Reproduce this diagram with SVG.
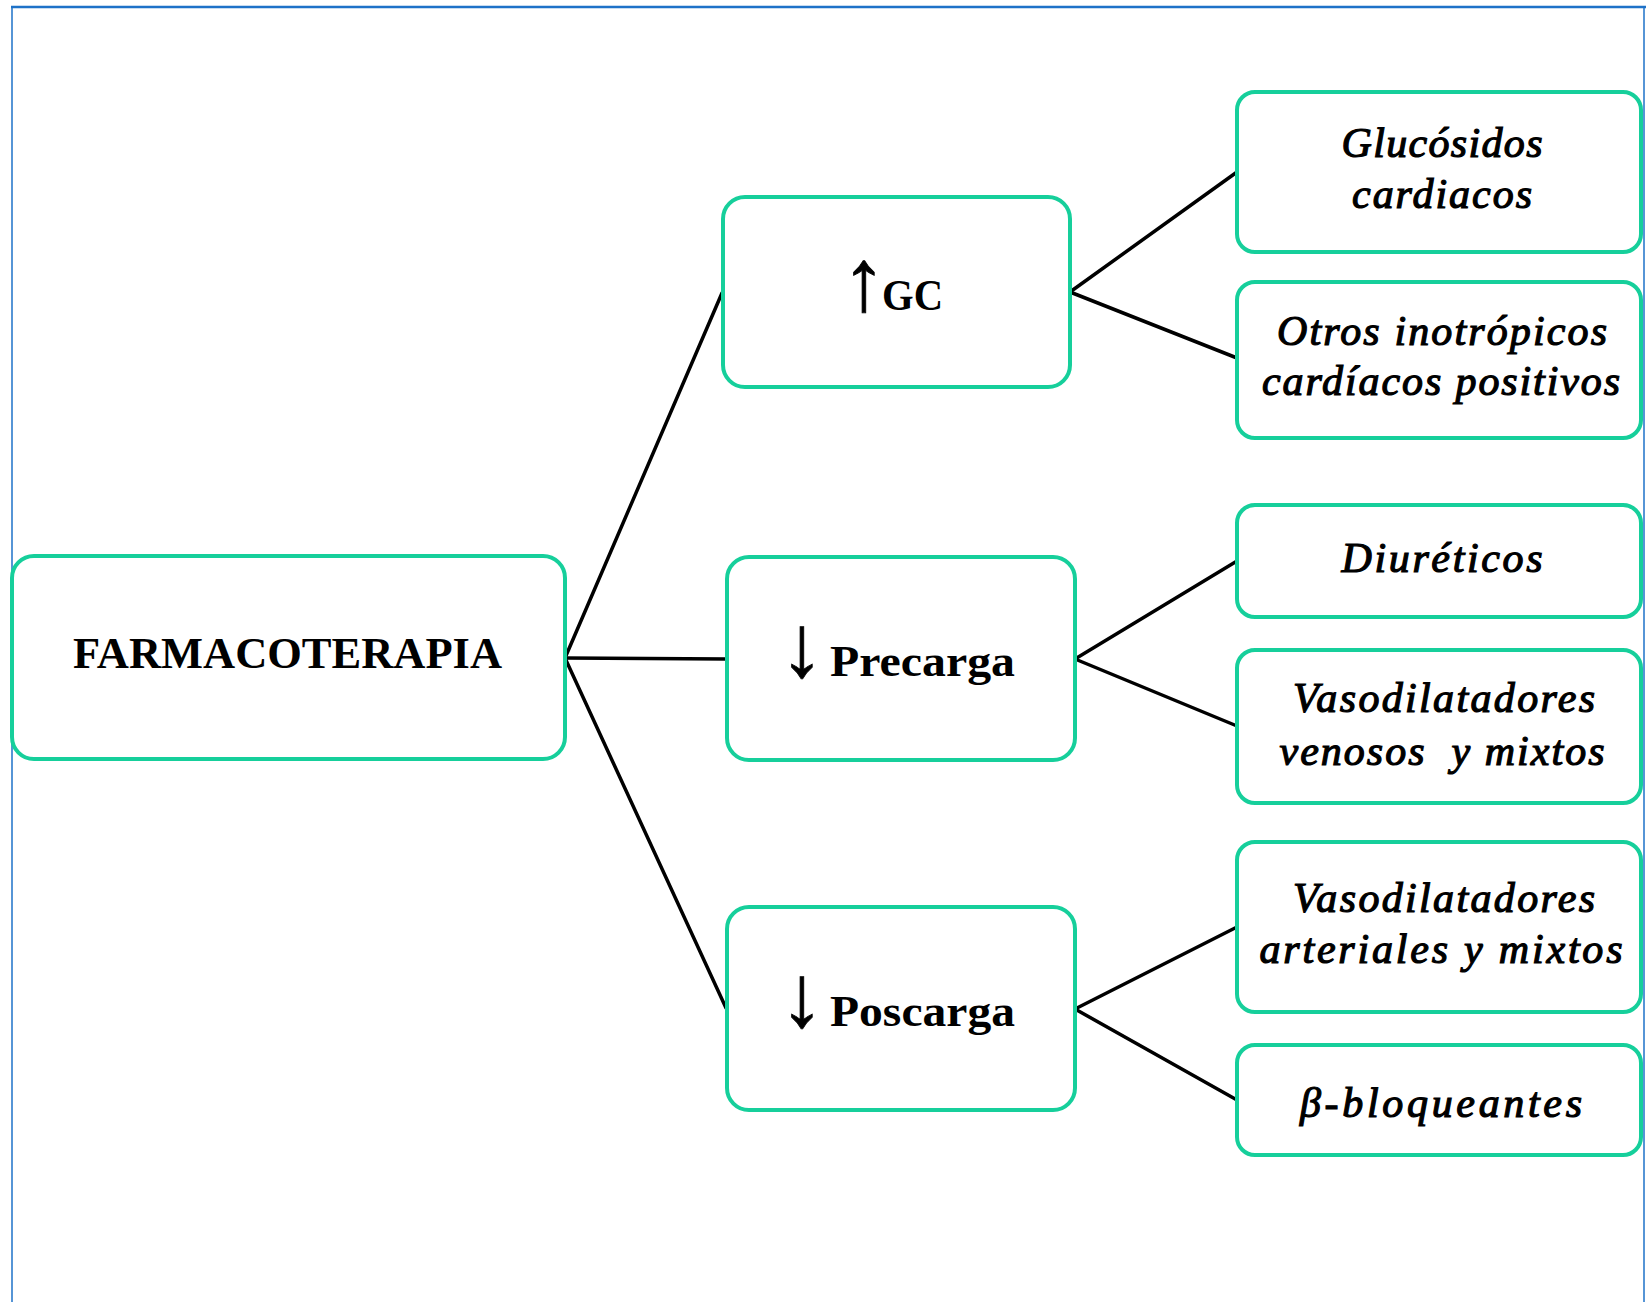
<svg xmlns="http://www.w3.org/2000/svg" width="1646" height="1302" viewBox="0 0 1646 1302">
  <style>
    .box { fill: #ffffff; stroke: #16CF9B; stroke-width: 4; }
    .edge { stroke: #000000; stroke-width: 3.5; fill: none; stroke-linecap: round; }
    .head { font-family: "Liberation Serif", "DejaVu Serif", serif; font-weight: bold; font-size: 44px; fill: #000; }
    .arrow { font-family: "Liberation Serif", "DejaVu Serif", serif; font-size: 88px; fill: #000; stroke: #000; stroke-width: 0.8; text-anchor: middle; }
    .leaf { font-family: "Liberation Serif", "Times New Roman", serif; font-style: italic; font-size: 42px; fill: #000; stroke: #000; stroke-width: 1.2; text-anchor: middle; white-space: pre; }
  </style>

  <rect x="0" y="0" width="1646" height="1302" fill="#ffffff"/>

  <!-- page frame -->
  <g id="frame" fill="none" stroke="#1E72C8">
    <line x1="11" y1="7" x2="1646" y2="7" stroke-width="2.5"/>
    <line x1="12" y1="6" x2="12" y2="1302" stroke-width="1.5"/>
    <line x1="1644" y1="6" x2="1644" y2="1302" stroke-width="1.5"/>
  </g>

  <!-- connectors -->
  <g id="connectors">
    <line class="edge" x1="565" y1="658" x2="722" y2="293"/>
    <line class="edge" x1="565" y1="658" x2="727" y2="659"/>
    <line class="edge" x1="565" y1="658" x2="726" y2="1008"/>
    <line class="edge" x1="1070" y1="292" x2="1237" y2="172"/>
    <line class="edge" x1="1070" y1="292" x2="1237" y2="358"/>
    <line class="edge" x1="1075" y1="659" x2="1237" y2="561"/>
    <line class="edge" x1="1075" y1="659" x2="1237" y2="726"/>
    <line class="edge" x1="1075" y1="1009" x2="1237" y2="927"/>
    <line class="edge" x1="1075" y1="1009" x2="1237" y2="1100"/>
  </g>

  <!-- root -->
  <g id="farmacoterapia">
    <rect class="box" x="12" y="556" width="553" height="203" rx="22"/>
    <text class="head" x="73" y="668" textLength="429" lengthAdjust="spacingAndGlyphs">FARMACOTERAPIA</text>
  </g>

  <!-- second level -->
  <g id="gc">
    <rect class="box" x="723" y="197" width="347" height="190" rx="22"/>
    <text class="arrow" x="864" y="310">↑</text>
    <text class="head" x="882" y="310" textLength="61" lengthAdjust="spacingAndGlyphs">GC</text>
  </g>

  <g id="precarga">
    <rect class="box" x="727" y="557" width="348" height="203" rx="22"/>
    <text class="arrow" x="802" y="676">↓</text>
    <text class="head" x="830" y="676" textLength="185" lengthAdjust="spacingAndGlyphs">Precarga</text>
  </g>

  <g id="poscarga">
    <rect class="box" x="727" y="907" width="348" height="203" rx="22"/>
    <text class="arrow" x="802" y="1026">↓</text>
    <text class="head" x="830" y="1026" textLength="185" lengthAdjust="spacingAndGlyphs">Poscarga</text>
  </g>

  <!-- leaves -->
  <g id="glucosidos">
    <rect class="box" x="1237" y="92" width="404" height="160" rx="18"/>
    <text class="leaf" x="1442" y="157" textLength="201" lengthAdjust="spacing">Glucósidos</text>
    <text class="leaf" x="1442" y="208" textLength="180" lengthAdjust="spacing">cardiacos</text>
  </g>

  <g id="otros-inotropicos">
    <rect class="box" x="1237" y="282" width="404" height="156" rx="18"/>
    <text class="leaf" x="1442" y="345" textLength="330" lengthAdjust="spacing">Otros inotrópicos</text>
    <text class="leaf" x="1441" y="395" textLength="358" lengthAdjust="spacing">cardíacos positivos</text>
  </g>

  <g id="diureticos">
    <rect class="box" x="1237" y="505" width="404" height="112" rx="18"/>
    <text class="leaf" x="1442" y="572" textLength="201" lengthAdjust="spacing">Diuréticos</text>
  </g>

  <g id="vasodilatadores-venosos">
    <rect class="box" x="1237" y="650" width="404" height="153" rx="18"/>
    <text class="leaf" x="1444" y="712" textLength="302" lengthAdjust="spacing">Vasodilatadores</text>
    <text class="leaf" x="1442" y="765" textLength="325" lengthAdjust="spacing">venosos  y mixtos</text>
  </g>

  <g id="vasodilatadores-arteriales">
    <rect class="box" x="1237" y="842" width="404" height="170" rx="18"/>
    <text class="leaf" x="1444" y="912" textLength="302" lengthAdjust="spacing">Vasodilatadores</text>
    <text class="leaf" x="1441" y="963" textLength="363" lengthAdjust="spacing">arteriales y mixtos</text>
  </g>

  <g id="beta-bloqueantes">
    <rect class="box" x="1237" y="1045" width="404" height="110" rx="18"/>
    <text class="leaf" x="1441" y="1117" textLength="282" lengthAdjust="spacing">β-bloqueantes</text>
  </g>
</svg>
